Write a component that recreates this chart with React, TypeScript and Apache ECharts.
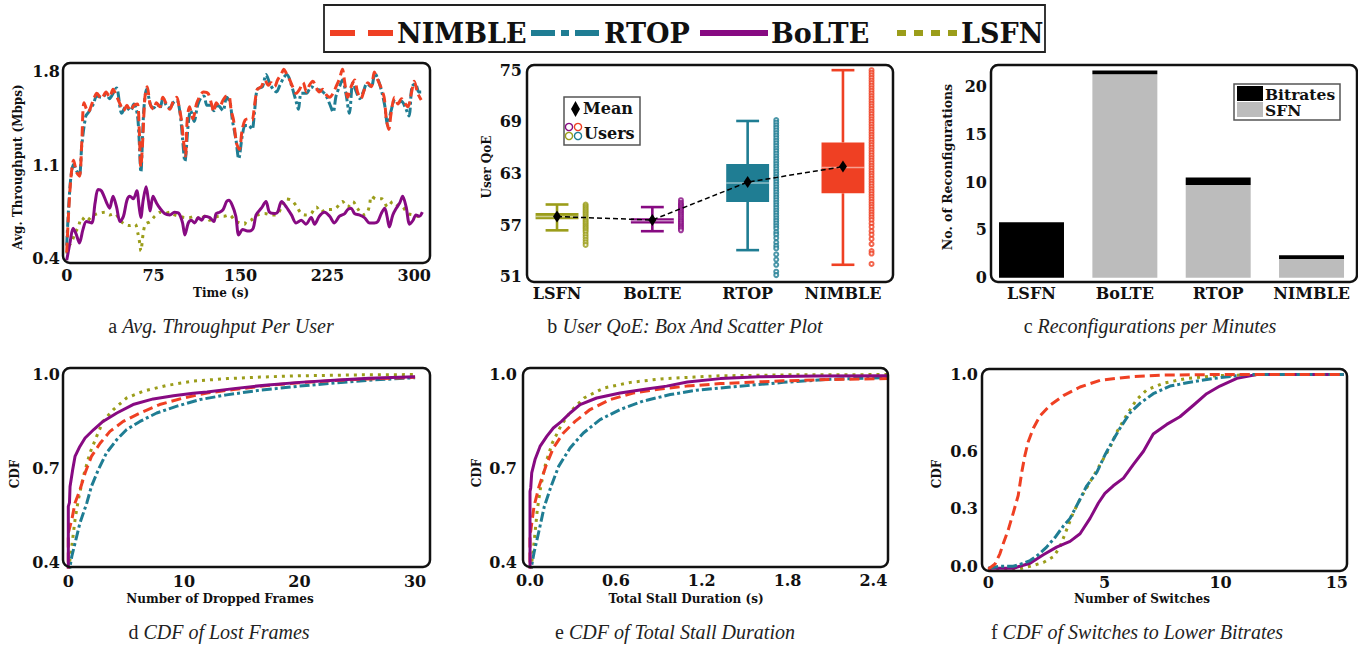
import React, { useEffect, useRef } from "react";
import * as echarts from "echarts";

const FONT = "DejaVu Serif";
const CAP_FONT = "Liberation Serif";
const INK = "#111";

const METHODS = ["LSFN", "BoLTE", "RTOP", "NIMBLE"];
const C_NIMBLE = "#ef4023";
const C_RTOP = "#1f7d93";
const C_BOLTE = "#870a82";
const C_LSFN = "#9b9d1a";
const METHOD_COLORS = [C_LSFN, C_BOLTE, C_RTOP, C_NIMBLE];
const C_SFN = "#bcbcbc";
const C_BITRATES = "#000000";

const DASH_NIMBLE = [10, 5];
const DASH_RTOP = [10, 3, 3, 3];
const DASH_LSFN = [3, 5];

// ---------- (a) throughput over time [t (s), Mbps] ----------
const TP_TICKS_X = [0, 75, 150, 225, 300];
const TP_TICKS_Y = [0.4, 1.1, 1.8];
const NIMBLE_TP = [[0,0.45],[3,0.94],[6,1.14],[8.5,1.05],[11,1.02],[13,1.27],[15,1.57],[18.5,1.5],[23,1.59],[26,1.64],[30,1.6],[34,1.65],[37,1.61],[40,1.67],[43,1.62],[46,1.56],[49,1.51],[52,1.55],[55,1.51],[58,1.55],[61,1.56],[62.5,1.39],[64,1.09],[65.5,1.27],[67.5,1.61],[69.5,1.69],[72,1.56],[75,1.52],[77.5,1.57],[80.5,1.54],[83,1.61],[86,1.56],[89,1.52],[92,1.58],[95,1.61],[97,1.54],[99,1.44],[101,1.27],[102.5,1.17],[104,1.44],[106,1.54],[109,1.45],[112,1.56],[115,1.62],[118,1.65],[122,1.64],[125,1.56],[127,1.5],[129,1.57],[132,1.54],[135,1.59],[138,1.62],[140,1.62],[142,1.51],[144,1.44],[146.5,1.27],[149,1.22],[151.5,1.37],[154,1.44],[157,1.45],[160,1.44],[162,1.54],[164.5,1.67],[168,1.69],[171,1.74],[174,1.7],[176.5,1.72],[179.5,1.69],[182,1.74],[185,1.78],[187.5,1.82],[189.5,1.79],[192.5,1.74],[195,1.69],[198,1.64],[201,1.67],[204,1.72],[207,1.65],[209.5,1.7],[212.5,1.73],[215.5,1.68],[218,1.65],[221,1.67],[224,1.63],[227,1.61],[230,1.64],[232.5,1.69],[235.5,1.75],[238,1.82],[240,1.72],[242.5,1.61],[245.5,1.69],[248.5,1.74],[251,1.65],[254,1.6],[257,1.67],[260,1.72],[263,1.69],[265.5,1.8],[268,1.75],[271,1.69],[274,1.61],[276,1.44],[278,1.37],[280,1.49],[283,1.61],[286,1.56],[289,1.6],[291.5,1.57],[294.5,1.54],[297.5,1.64],[300,1.73],[303,1.64],[306,1.59]];
const RTOP_TP = [[0,0.5],[3,0.96],[6,1.11],[8.5,1.06],[11,1.03],[13,1.25],[16.5,1.47],[19,1.5],[23,1.56],[26,1.62],[30,1.61],[34,1.63],[37,1.6],[40,1.64],[43,1.68],[47.5,1.49],[51,1.54],[55,1.51],[58,1.56],[61,1.48],[62.5,1.3],[64,1.05],[66.5,1.51],[69,1.67],[72.5,1.55],[75,1.53],[78,1.56],[80.5,1.53],[83,1.6],[86,1.55],[89,1.53],[92,1.57],[95,1.59],[98,1.48],[100,1.3],[102,1.13],[105,1.42],[107,1.51],[110,1.43],[113,1.55],[116,1.61],[118.5,1.62],[121,1.55],[124,1.55],[127,1.51],[130,1.55],[132,1.54],[135,1.51],[138,1.61],[141,1.57],[143,1.44],[146,1.3],[148.5,1.15],[151.5,1.32],[154,1.4],[157,1.4],[160,1.37],[162,1.49],[164.5,1.67],[169,1.69],[172,1.78],[176,1.7],[181,1.65],[184,1.7],[187.5,1.76],[190,1.78],[194,1.7],[198,1.58],[200,1.52],[202.5,1.64],[207,1.64],[211,1.69],[215.5,1.67],[220,1.66],[224,1.62],[227,1.56],[230,1.5],[232.5,1.62],[235.5,1.69],[238,1.74],[241,1.64],[244,1.49],[247,1.72],[250,1.65],[253,1.6],[256,1.65],[259,1.71],[263,1.69],[266,1.79],[269,1.74],[272,1.65],[274.5,1.55],[277,1.4],[280,1.51],[283,1.58],[286,1.57],[289,1.58],[292,1.54],[295.5,1.47],[298,1.69],[301,1.71],[304,1.65],[306,1.65]];
const BOLTE_TP = [[0,0.39],[3,0.53],[5.5,0.63],[8,0.59],[11,0.52],[14,0.62],[17,0.68],[21.5,0.67],[24.5,0.82],[27,0.92],[30,0.91],[34.5,0.82],[37,0.78],[40,0.87],[43,0.79],[46,0.68],[49,0.72],[52,0.84],[54.5,0.87],[57.5,0.85],[60.5,0.91],[62.5,0.79],[64,0.71],[66,0.84],[68.5,0.94],[70.5,0.84],[72,0.76],[74.5,0.87],[77.5,0.82],[80.5,0.78],[84.5,0.74],[89,0.73],[93,0.75],[97,0.74],[100,0.67],[102,0.58],[105,0.67],[107.5,0.69],[110.5,0.67],[113.5,0.71],[116.5,0.69],[119,0.72],[123.5,0.71],[127,0.68],[129,0.74],[132,0.75],[135,0.77],[138,0.83],[140,0.84],[143,0.8],[146,0.72],[148.5,0.58],[152,0.62],[156,0.61],[158,0.61],[161,0.63],[163.5,0.73],[168,0.78],[172,0.83],[175,0.75],[179.5,0.74],[182,0.75],[185.5,0.83],[189.5,0.79],[194,0.73],[198,0.67],[202.5,0.69],[206.5,0.66],[211,0.71],[214,0.66],[218,0.72],[222.5,0.75],[227,0.72],[231,0.67],[235.5,0.72],[240,0.74],[242.5,0.77],[245.5,0.78],[248.5,0.74],[252.5,0.73],[257,0.71],[261.5,0.67],[265.5,0.67],[268.5,0.68],[271.5,0.74],[274.5,0.78],[276.5,0.72],[278.5,0.64],[281.5,0.73],[284.5,0.78],[287.5,0.82],[290,0.87],[293,0.79],[296,0.66],[299,0.69],[301.5,0.73],[304.5,0.72],[307,0.75]];
const LSFN_TP = [[0,0.44],[2,0.5],[4,0.52],[7,0.59],[10,0.64],[13,0.71],[17,0.68],[21.5,0.72],[27,0.74],[33,0.75],[37,0.73],[41.5,0.74],[46,0.69],[50,0.66],[54.5,0.65],[59,0.66],[61.5,0.59],[63,0.52],[64,0.46],[66,0.59],[68,0.66],[72,0.68],[76,0.72],[80.5,0.75],[84.5,0.74],[89,0.75],[93,0.73],[97.5,0.72],[102,0.71],[106,0.71],[110.5,0.72],[115,0.69],[119,0.72],[123.5,0.69],[127.5,0.71],[132,0.72],[136,0.72],[140.5,0.73],[145,0.69],[149,0.67],[153.5,0.66],[155,0.68],[159,0.69],[165,0.73],[171,0.74],[176.5,0.73],[181,0.73],[185,0.78],[189.5,0.85],[194,0.84],[198,0.8],[202.5,0.74],[206.5,0.73],[211,0.74],[215.5,0.79],[219.5,0.75],[224,0.77],[228.5,0.77],[232.5,0.78],[238,0.83],[242.5,0.79],[247,0.83],[251,0.78],[255.5,0.73],[259.5,0.75],[261.5,0.81],[263,0.87],[267,0.85],[272,0.85],[277,0.79],[281.5,0.83],[286,0.8],[290,0.79],[294.5,0.74],[299,0.73],[303,0.72],[306,0.71]];

// ---------- (b) user QoE ----------
const QOE_TICKS = [51, 57, 63, 69, 75];
const QOE_LOW = [56.4, 56.3, 54.1, 52.4];
const QOE_Q1 = [57.7, 57.2, 59.7, 60.7];
const QOE_MEDIAN = [58.0, 57.5, 61.9, 63.7];
const QOE_Q3 = [58.4, 57.8, 64.1, 66.6];
const QOE_HIGH = [59.4, 59.1, 69.1, 75.0];
const QOE_MEAN = [58.0, 57.6, 62.0, 63.8];
const USERS_LSFN = [59.4,59.2,59.0,58.8,58.6,58.4,58.2,58.0,57.8,57.6,57.4,57.2,57.0,56.8,56.6,56.4,56.2,55.9,55.6,55.3,55.0,54.7];
const USERS_BOLTE = [59.9,59.6,59.4,59.2,59.0,58.8,58.6,58.4,58.2,58.0,57.8,57.6,57.4,57.2,57.0,56.8,56.6,56.4];
const USERS_RTOP = [69.2,68.9,68.6,68.3,68.0,67.7,67.4,67.1,66.8,66.5,66.2,65.9,65.6,65.3,65.0,64.7,64.4,64.1,63.8,63.5,63.2,62.9,62.6,62.3,62.0,61.7,61.4,61.1,60.8,60.5,60.2,59.9,59.6,59.3,59.0,58.7,58.4,58.1,57.8,57.5,57.2,56.9,56.6,56.2,55.9,55.5,55.0,54.6,54.3,53.6,53.0,52.4,51.6,51.2];
const USERS_NIMBLE = [75.0,74.7,74.4,74.1,73.8,73.5,73.2,72.9,72.6,72.3,72.0,71.7,71.4,71.1,70.8,70.5,70.2,69.9,69.6,69.3,69.0,68.7,68.4,68.1,67.8,67.5,67.2,66.9,66.6,66.3,66.0,65.7,65.4,65.1,64.8,64.5,64.2,63.9,63.6,63.3,63.0,62.7,62.4,62.1,61.8,61.5,61.2,60.9,60.6,60.3,60.0,59.7,59.4,59.1,58.8,58.5,58.2,57.9,57.6,57.2,56.8,56.3,55.9,55.4,54.8,54.0,53.7,52.5];
const USERS = [USERS_LSFN, USERS_BOLTE, USERS_RTOP, USERS_NIMBLE];

// ---------- (c) reconfigurations per minute ----------
const RECONF_TICKS = [0, 5, 10, 15, 20];
const RECONF_SFN = [0, 21.3, 9.7, 1.96];
const RECONF_BITRATES = [5.8, 0.4, 0.8, 0.4];

// ---------- (d) CDF of dropped frames ----------
const FRAMES_TICKS = [0, 10, 20, 30];
const CDF_TICKS_DE = [0.4, 0.7, 1.0];
const NIMBLE_FRAMES = [[0,0.35],[0,0.493],[0.3,0.535],[0.58,0.589],[1.0,0.63],[1.45,0.685],[2.0,0.738],[2.75,0.78],[3.6,0.818],[4.75,0.85],[6.2,0.877],[7.9,0.904],[9.95,0.925],[12,0.941],[14.3,0.952],[17.2,0.965],[20,0.974],[23,0.981],[26,0.986],[30,0.991]];
const RTOP_FRAMES = [[0.1,0.35],[0.15,0.386],[0.3,0.418],[0.58,0.46],[1.0,0.524],[1.6,0.589],[2.0,0.642],[2.6,0.696],[3.3,0.749],[4.2,0.792],[5.05,0.824],[6.2,0.85],[7.65,0.877],[9.4,0.899],[11.4,0.92],[13.7,0.935],[16.6,0.95],[20,0.963],[23,0.973],[26,0.982],[30,0.99]];
const BOLTE_FRAMES = [[0,0.35],[0,0.578],[0.1,0.59],[0.15,0.642],[0.38,0.696],[0.58,0.738],[1.0,0.77],[1.45,0.797],[2.2,0.824],[3.0,0.85],[4.2,0.877],[5.6,0.904],[7.35,0.922],[9.1,0.932],[10.8,0.94],[12,0.944],[14.3,0.955],[17,0.966],[20,0.975],[23,0.982],[26,0.988],[30,0.993]];
const LSFN_FRAMES = [[0.05,0.35],[0.1,0.397],[0.3,0.45],[0.58,0.535],[0.87,0.6],[1.3,0.674],[1.87,0.749],[2.45,0.802],[3.0,0.85],[3.9,0.888],[5.05,0.925],[6.5,0.947],[8.5,0.965],[10.8,0.979],[13.7,0.987],[16.6,0.992],[20,0.996],[25,0.999],[30,1.0]];

// ---------- (e) CDF of total stall duration ----------
const STALL_TICKS = [0, 0.6, 1.2, 1.8, 2.4];
const NIMBLE_STALL = [[0,0.35],[0,0.482],[0.028,0.578],[0.063,0.642],[0.11,0.706],[0.163,0.765],[0.233,0.813],[0.315,0.85],[0.42,0.888],[0.56,0.92],[0.72,0.941],[0.91,0.954],[1.095,0.963],[1.33,0.971],[1.77,0.98],[2.1,0.984],[2.5,0.987]];
const RTOP_STALL = [[0.008,0.35],[0.012,0.39],[0.028,0.43],[0.063,0.5],[0.1,0.578],[0.147,0.642],[0.2,0.706],[0.28,0.765],[0.373,0.813],[0.49,0.856],[0.63,0.888],[0.79,0.915],[0.98,0.936],[1.165,0.95],[1.33,0.957],[1.77,0.975],[2.1,0.985],[2.5,0.99]];
const BOLTE_STALL = [[0,0.35],[0,0.626],[0.005,0.637],[0.012,0.685],[0.035,0.728],[0.07,0.77],[0.117,0.802],[0.163,0.829],[0.22,0.85],[0.28,0.877],[0.35,0.904],[0.466,0.925],[0.63,0.941],[0.815,0.954],[0.955,0.963],[1.1,0.976],[1.33,0.987],[1.6,0.993],[2.0,0.995],[2.5,0.996]];
const LSFN_STALL = [[0.008,0.35],[0.012,0.397],[0.028,0.461],[0.051,0.567],[0.075,0.642],[0.11,0.717],[0.156,0.781],[0.214,0.834],[0.284,0.882],[0.377,0.925],[0.517,0.957],[0.703,0.975],[0.913,0.986],[1.146,0.992],[1.33,0.996],[1.8,0.999],[2.5,1.0]];

// ---------- (f) CDF of switches to lower bitrates ----------
const SWITCH_TICKS = [0, 5, 10, 15];
const CDF_TICKS_F = [0, 0.3, 0.6, 1.0];
const NIMBLE_SWITCH = [[0,-0.015],[0.29,0.012],[0.5,0.065],[0.65,0.12],[0.86,0.19],[1.08,0.28],[1.29,0.37],[1.44,0.49],[1.58,0.58],[1.72,0.65],[1.94,0.72],[2.23,0.785],[2.66,0.84],[3.23,0.89],[3.95,0.935],[4.81,0.97],[6.1,0.988],[7.5,0.997],[9.7,1.0],[15.3,1.0]];
const RTOP_SWITCH = [[0,-0.01],[0.5,0],[1.08,0],[1.51,0.016],[1.8,0.03],[2.15,0.06],[2.51,0.1],[2.87,0.15],[3.23,0.21],[3.52,0.25],[3.95,0.35],[4.24,0.42],[4.67,0.49],[5.02,0.58],[5.38,0.66],[5.67,0.72],[6.1,0.8],[6.53,0.85],[7.1,0.9],[7.82,0.94],[8.68,0.96],[9.7,0.98],[11.1,1.0],[15.3,1.0]];
const BOLTE_SWITCH = [[0,-0.01],[1.08,-0.01],[1.8,0.016],[2.37,0.06],[2.94,0.1],[3.52,0.13],[3.95,0.17],[4.38,0.25],[4.74,0.33],[5.02,0.38],[5.38,0.42],[5.82,0.46],[6.24,0.53],[6.68,0.6],[7.1,0.69],[7.68,0.74],[8.25,0.78],[8.83,0.84],[9.4,0.9],[9.97,0.94],[10.7,0.98],[11.56,1.0],[15.3,1.0]];
const LSFN_SWITCH = [[0,-0.02],[1.08,-0.02],[1.8,0],[2.37,0.02],[2.8,0.05],[3.08,0.1],[3.37,0.19],[3.66,0.28],[3.95,0.35],[4.38,0.44],[4.81,0.53],[5.24,0.62],[5.53,0.7],[5.96,0.79],[6.39,0.87],[6.82,0.92],[7.54,0.955],[8.54,0.98],[9.97,0.995],[11.8,1.0],[15.3,1.0]];

// ---------- layout ----------
const GRIDS = [
  { left: 63, top: 63, width: 367, height: 200 },
  { left: 527, top: 65, width: 366, height: 217 },
  { left: 991, top: 65, width: 366, height: 217 },
  { left: 63, top: 368, width: 367, height: 199 },
  { left: 523, top: 368, width: 365, height: 199 },
  { left: 982, top: 369, width: 365, height: 202 },
];

const fmt1 = (v: number) => v.toFixed(1);
const fmt0 = (v: number) => String(Math.round(v));
const fmtCat = (v: number) => METHODS[Math.round(v)] ?? "";

function valAxis(gi: number, min: number, max: number, ticks: number[], formatter: any, margin: number) {
  return {
    type: "value", gridIndex: gi, min, max, scale: false,
    axisLine: { show: false }, axisTick: { show: false }, splitLine: { show: false },
    axisLabel: { customValues: ticks, formatter, fontFamily: FONT, fontWeight: "bold", fontSize: 16, color: INK, margin },
  };
}

function lineSeries(name: string, data: number[][], gi: number, color: string, dash: any, smooth: number, z: number) {
  return {
    name, type: "line", xAxisIndex: gi, yAxisIndex: gi, data, symbol: "none", showSymbol: false,
    smooth, clip: true, z,
    lineStyle: { color, width: 3, type: dash, cap: "butt", join: "round" },
    itemStyle: { color },
  };
}

function text(x: number, y: number, t: string, size: number, opts: any = {}) {
  return {
    type: "text", x, y, z: 110, rotation: opts.rotation || 0,
    style: {
      text: t, fill: INK, fontFamily: opts.family || FONT, fontWeight: opts.weight || "bold", fontSize: size,
      lineHeight: opts.lineHeight || undefined,
      align: opts.align || "center", verticalAlign: "middle",
      textAlign: opts.align || "center", textVerticalAlign: "middle",
    },
  };
}

function caption(cx: number, cy: number, letter: string, title: string) {
  return {
    type: "text", x: cx, y: cy, z: 110,
    style: {
      text: `{n|${letter}} {i|${title}}`,
      align: "center", verticalAlign: "middle", textAlign: "center", textVerticalAlign: "middle",
      fill: "#222", fontFamily: CAP_FONT, fontSize: 20,
      rich: {
        n: { fontFamily: CAP_FONT, fontSize: 20, fill: "#222" },
        i: { fontFamily: CAP_FONT, fontSize: 20, fontStyle: "italic", fill: "#222" },
      },
    },
  };
}

function frame(g: any) {
  return {
    type: "rect", z: 100,
    shape: { x: g.left, y: g.top, width: g.width, height: g.height, r: 7 },
    style: { fill: "none", stroke: "#111", lineWidth: 2.5 },
  };
}

const boxRender = (params: any, api: any) => {
  const i = params.dataIndex;
  const x = api.value(0);
  const pLow = api.coord([x, api.value(1)]);
  const pQ1 = api.coord([x, api.value(2)]);
  const pMed = api.coord([x, api.value(3)]);
  const pQ3 = api.coord([x, api.value(4)]);
  const pHigh = api.coord([x, api.value(5)]);
  const cx = pLow[0];
  const half = api.size([0.225, 0])[0];
  const capHalf = api.size([0.12, 0])[0];
  const color = METHOD_COLORS[i];
  const ls = { stroke: color, lineWidth: 2.6 };
  return {
    type: "group",
    children: [
      { type: "line", shape: { x1: cx, y1: pLow[1], x2: cx, y2: pQ1[1] }, style: ls },
      { type: "line", shape: { x1: cx, y1: pQ3[1], x2: cx, y2: pHigh[1] }, style: ls },
      { type: "line", shape: { x1: cx - capHalf, y1: pLow[1], x2: cx + capHalf, y2: pLow[1] }, style: ls },
      { type: "line", shape: { x1: cx - capHalf, y1: pHigh[1], x2: cx + capHalf, y2: pHigh[1] }, style: ls },
      { type: "rect", shape: { x: cx - half, y: pQ3[1], width: 2 * half, height: Math.max(pQ1[1] - pQ3[1], 1) }, style: { fill: color } },
      { type: "line", shape: { x1: cx - half, y1: pMed[1], x2: cx + half, y2: pMed[1] }, style: { stroke: "rgba(255,255,255,0.5)", lineWidth: 1.5 } },
    ],
  };
};

const stackedBarRender = (params: any, api: any) => {
  const x = api.value(0);
  const sfn = api.value(1);
  const br = api.value(2);
  const half = api.size([0.348, 0])[0];
  const p0 = api.coord([x, 0]);
  const p1 = api.coord([x, sfn]);
  const p2 = api.coord([x, sfn + br]);
  return {
    type: "group",
    children: [
      { type: "rect", shape: { x: p0[0] - half, y: p1[1], width: 2 * half, height: p0[1] - p1[1] }, style: { fill: C_SFN } },
      { type: "rect", shape: { x: p0[0] - half, y: p2[1], width: 2 * half, height: p1[1] - p2[1] }, style: { fill: C_BITRATES } },
    ],
  };
};

export default function App() {
  const ref = useRef<HTMLDivElement>(null);

  useEffect(() => {
    if (!ref.current) return;
    const chart = echarts.init(ref.current, null, { renderer: "svg" });

    const grid = GRIDS.map((g) => ({ ...g, containLabel: false }));

    const xAxis = [
      valAxis(0, -3.2, 313.6, TP_TICKS_X, fmt0, 4),
      valAxis(1, -0.315, 3.525, [0, 1, 2, 3], fmtCat, 3),
      valAxis(2, -0.434, 3.487, [0, 1, 2, 3], fmtCat, 3),
      valAxis(3, -0.46, 31.29, FRAMES_TICKS, fmt0, 6),
      valAxis(4, -0.049, 2.502, STALL_TICKS, fmt1, 5),
      valAxis(5, -0.27, 15.44, SWITCH_TICKS, fmt0, 3),
    ];
    const yAxis = [
      valAxis(0, 0.37, 1.867, TP_TICKS_Y, fmt1, 3),
      valAxis(1, 50.4, 75.6, QOE_TICKS, fmt0, 5),
      valAxis(2, -0.45, 22.27, RECONF_TICKS, fmt0, 4),
      valAxis(3, 0.384, 1.021, CDF_TICKS_DE, fmt1, 3),
      valAxis(4, 0.384, 1.021, CDF_TICKS_DE, fmt1, 6),
      valAxis(5, -0.0245, 1.029, CDF_TICKS_F, fmt1, 4),
    ];

    const boxData = METHODS.map((_, i) => [i, QOE_LOW[i], QOE_Q1[i], QOE_MEDIAN[i], QOE_Q3[i], QOE_HIGH[i]]);
    const barData = METHODS.map((_, i) => [i, RECONF_SFN[i], RECONF_BITRATES[i], RECONF_SFN[i] + RECONF_BITRATES[i]]);

    const series: any[] = [
      // (a)
      lineSeries("LSFN", LSFN_TP, 0, C_LSFN, DASH_LSFN, 0.3, 3),
      lineSeries("BoLTE", BOLTE_TP, 0, C_BOLTE, "solid", 0.3, 4),
      lineSeries("RTOP", RTOP_TP, 0, C_RTOP, DASH_RTOP, 0.3, 5),
      lineSeries("NIMBLE", NIMBLE_TP, 0, C_NIMBLE, DASH_NIMBLE, 0.3, 6),
      // (b)
      {
        name: "QoE box", type: "custom", xAxisIndex: 1, yAxisIndex: 1, renderItem: boxRender,
        data: boxData, encode: { x: 0, y: [1, 2, 3, 4, 5] }, z: 3,
      },
      ...USERS.map((arr, i) => ({
        name: "Users " + METHODS[i], type: "scatter", xAxisIndex: 1, yAxisIndex: 1,
        data: arr.map((v) => [i + 0.3, v]), symbol: "emptyCircle", symbolSize: 4, z: 3,
        itemStyle: { color: METHOD_COLORS[i], borderColor: METHOD_COLORS[i], borderWidth: 0.8, opacity: 0.8 },
      })),
      {
        name: "Mean", type: "line", xAxisIndex: 1, yAxisIndex: 1,
        data: QOE_MEAN.map((v, i) => [i, v]), symbol: "diamond", symbolSize: [8, 12], z: 8,
        lineStyle: { color: "#000", width: 1.5, type: [5, 3] }, itemStyle: { color: "#000" },
      },
      // (c) stacked: SFN (grey) at the bottom, Bitrates (black) on top
      {
        name: "Reconfigurations", type: "custom", xAxisIndex: 2, yAxisIndex: 2, renderItem: stackedBarRender,
        data: barData, encode: { x: 0, y: [1, 3] }, z: 3,
      },
      // (d)
      lineSeries("LSFN", LSFN_FRAMES, 3, C_LSFN, DASH_LSFN, 0, 3),
      lineSeries("RTOP", RTOP_FRAMES, 3, C_RTOP, DASH_RTOP, 0, 4),
      lineSeries("NIMBLE", NIMBLE_FRAMES, 3, C_NIMBLE, DASH_NIMBLE, 0, 5),
      lineSeries("BoLTE", BOLTE_FRAMES, 3, C_BOLTE, "solid", 0, 6),
      // (e)
      lineSeries("LSFN", LSFN_STALL, 4, C_LSFN, DASH_LSFN, 0, 3),
      lineSeries("RTOP", RTOP_STALL, 4, C_RTOP, DASH_RTOP, 0, 4),
      lineSeries("NIMBLE", NIMBLE_STALL, 4, C_NIMBLE, DASH_NIMBLE, 0, 5),
      lineSeries("BoLTE", BOLTE_STALL, 4, C_BOLTE, "solid", 0, 6),
      // (f)
      lineSeries("LSFN", LSFN_SWITCH, 5, C_LSFN, DASH_LSFN, 0, 3),
      lineSeries("BoLTE", BOLTE_SWITCH, 5, C_BOLTE, "solid", 0, 4),
      lineSeries("RTOP", RTOP_SWITCH, 5, C_RTOP, DASH_RTOP, 0, 5),
      lineSeries("NIMBLE", NIMBLE_SWITCH, 5, C_NIMBLE, DASH_NIMBLE, 0, 6),
    ];

    const legendY = 33;
    const graphic: any[] = [
      ...GRIDS.map(frame),
      // top legend
      { type: "rect", z: 100, shape: { x: 324, y: 5, width: 721, height: 47 }, style: { fill: "#fff", stroke: "#222", lineWidth: 1.8 } },
      { type: "line", z: 101, shape: { x1: 330, y1: legendY, x2: 393, y2: legendY }, style: { stroke: C_NIMBLE, lineWidth: 6, lineDash: [25, 13] } },
      text(397, legendY, "NIMBLE", 27, { align: "left" }),
      { type: "line", z: 101, shape: { x1: 531, y1: legendY, x2: 601, y2: legendY }, style: { stroke: C_RTOP, lineWidth: 6, lineDash: [24, 6, 8, 6] } },
      text(604, legendY, "RTOP", 27, { align: "left" }),
      { type: "line", z: 101, shape: { x1: 700, y1: legendY, x2: 768, y2: legendY }, style: { stroke: C_BOLTE, lineWidth: 6 } },
      text(771, legendY, "BoLTE", 27, { align: "left" }),
      { type: "line", z: 101, shape: { x1: 897, y1: legendY, x2: 958, y2: legendY }, style: { stroke: C_LSFN, lineWidth: 6, lineDash: [9, 8] } },
      text(961, legendY, "LSFN", 27, { align: "left" }),
      // (b) inner legend
      { type: "rect", z: 101, shape: { x: 564, y: 97, width: 76, height: 48 }, style: { fill: "#fff", stroke: "#555", lineWidth: 1.5 } },
      { type: "polygon", z: 102, shape: { points: [[575.5, 101], [580, 109], [575.5, 117], [571, 109]] }, style: { fill: "#000" } },
      text(583, 108, "Mean", 16, { align: "left" }),
      { type: "circle", z: 102, shape: { cx: 569, cy: 127, r: 3.6 }, style: { fill: "none", stroke: C_BOLTE, lineWidth: 1.4 } },
      { type: "circle", z: 102, shape: { cx: 578, cy: 127, r: 3.6 }, style: { fill: "none", stroke: C_NIMBLE, lineWidth: 1.4 } },
      { type: "circle", z: 102, shape: { cx: 569, cy: 136, r: 3.6 }, style: { fill: "none", stroke: C_LSFN, lineWidth: 1.4 } },
      { type: "circle", z: 102, shape: { cx: 578, cy: 136, r: 3.6 }, style: { fill: "none", stroke: C_RTOP, lineWidth: 1.4 } },
      text(584, 133, "Users", 16, { align: "left" }),
      // (c) inner legend
      { type: "rect", z: 101, shape: { x: 1234, y: 84, width: 106, height: 36 }, style: { fill: "#fff", stroke: "#555", lineWidth: 1.5 } },
      { type: "rect", z: 102, shape: { x: 1237, y: 86, width: 26, height: 15 }, style: { fill: C_BITRATES } },
      { type: "rect", z: 102, shape: { x: 1237, y: 102, width: 26, height: 15 }, style: { fill: C_SFN } },
      text(1265, 94, "Bitrates", 15.5, { align: "left", lineHeight: 15 }),
      text(1265, 110.5, "SFN", 15.5, { align: "left", lineHeight: 15 }),
      // axis names
      text(221, 293, "Time (s)", 12),
      text(18, 167, "Avg. Throughput (Mbps)", 12, { rotation: Math.PI / 2 }),
      text(487, 167, "User QoE", 12, { rotation: Math.PI / 2 }),
      text(947, 167, "No. of Reconfigurations", 12.5, { rotation: Math.PI / 2 }),
      text(220, 599, "Number of Dropped Frames", 12),
      text(15, 474, "CDF", 12, { rotation: Math.PI / 2 }),
      text(686, 599, "Total Stall Duration (s)", 12),
      text(477, 473, "CDF", 12, { rotation: Math.PI / 2 }),
      text(1142, 599, "Number of Switches", 12),
      text(937, 474, "CDF", 12, { rotation: Math.PI / 2 }),
      // captions
      caption(221, 326, "a", "Avg. Throughput Per User"),
      caption(685, 326, "b", "User QoE: Box And Scatter Plot"),
      caption(1150, 326, "c", "Reconfigurations per Minutes"),
      caption(219, 632, "d", "CDF of Lost Frames"),
      caption(675, 632, "e", "CDF of Total Stall Duration"),
      caption(1137, 632, "f", "CDF of Switches to Lower Bitrates"),
    ];

    chart.setOption({
      animation: false,
      backgroundColor: "#fff",
      grid,
      xAxis,
      yAxis,
      series,
      graphic,
    });

    return () => chart.dispose();
  }, []);

  return (
    <div
      ref={ref}
      style={{ position: "absolute", left: 0, top: 0, width: 1358, height: 645, background: "#fff" }}
    />
  );
}
